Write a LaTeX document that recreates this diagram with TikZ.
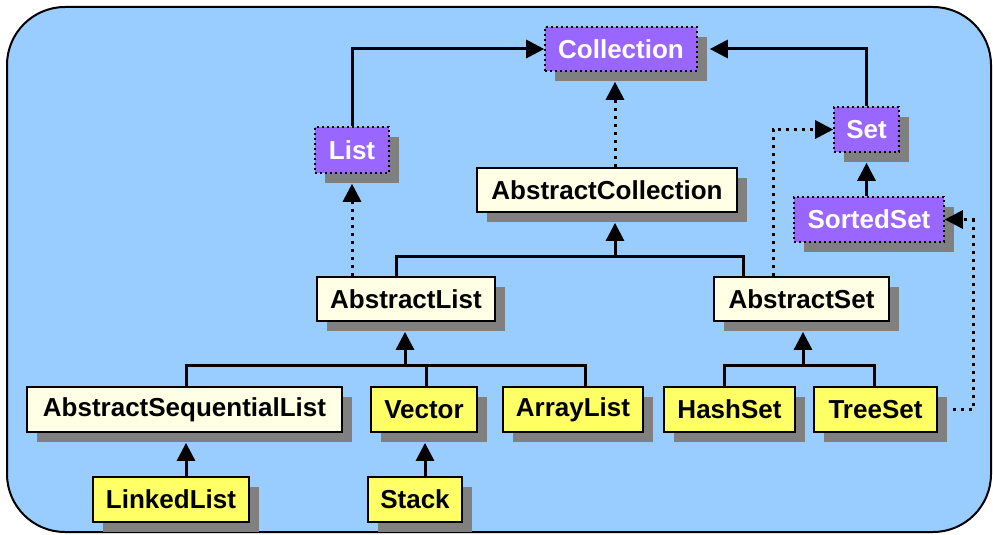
\documentclass[tikz,border=0pt]{standalone}
\usepackage{fontspec}
\setmainfont{Liberation Sans}
\usetikzlibrary{shadows,arrows.meta,calc}
\definecolor{bgblue}{RGB}{153,204,255}
\definecolor{ifpurple}{RGB}{153,102,255}
\definecolor{absfill}{RGB}{255,255,230}
\definecolor{conyellow}{RGB}{255,255,102}
\definecolor{shgray}{RGB}{128,128,128}

\begin{document}
\begin{tikzpicture}[x=1pt,y=-1pt,
  box/.style={rectangle, inner sep=0pt, minimum height=44pt,
    font=\fontsize{26}{30}\selectfont\bfseries,
    drop shadow={shadow xshift=10pt,shadow yshift=-10pt,fill=shgray,opacity=1}},
  iface/.style={box, fill=ifpurple, text=white, draw=black, line width=1.6pt,
    dash pattern=on 2pt off 3pt},
  abstr/.style={box, fill=absfill, draw=black, line width=1.8pt},
  concr/.style={box, fill=conyellow, draw=black, line width=1.8pt},
  link/.style={line width=3pt},
  impl/.style={line width=3pt, dash pattern=on 3pt off 5pt},
  tip/.style={-{Triangle[length=18pt,width=18pt]}}
]
\useasboundingbox (0,0) rectangle (993,535);
% background panel
\draw[fill=bgblue, line width=2pt, rounded corners=58pt] (7,7) rectangle (991,532);

% interfaces
\node[iface, minimum width=152pt] (coll) at (621,49) {Collection};
\node[iface, minimum width=74pt, minimum height=46pt] (list) at (352,150) {List};
\node[iface, minimum width=65pt, minimum height=45pt] (set) at (866.5,129.5) {Set};
\node[iface, minimum width=150pt, minimum height=45pt] (sset) at (869,219.5) {SortedSet};

% abstract classes
\node[abstr, minimum width=260pt] (acoll) at (607,190) {AbstractCollection};
\node[abstr, minimum width=178pt] (alist) at (406,299) {AbstractList};
\node[abstr, minimum width=175pt] (aset) at (801.5,299) {AbstractSet};
\node[abstr, minimum width=315pt, minimum height=45pt] (aseq) at (184.5,409.5) {AbstractSequentialList};

% concrete classes
\node[concr, minimum width=106pt, minimum height=45pt] (vec) at (424,409.5) {Vector};
\node[concr, minimum width=140pt, minimum height=45pt] (alst) at (573,409.5) {ArrayList};
\node[concr, minimum width=131pt, minimum height=45pt] (hset) at (729.5,409.5) {HashSet};
\node[concr, minimum width=123pt, minimum height=45pt] (tset) at (875.5,409.5) {TreeSet};
\node[concr, minimum width=156pt, minimum height=45pt] (llist) at (171,499.5) {LinkedList};
\node[concr, minimum width=94pt, minimum height=45pt] (stack) at (415,499.5) {Stack};

% junction points of the inheritance bars
\coordinate (j1) at (615,256);
\coordinate (j2) at (405,365);
\coordinate (j3) at (803,365);
\coordinate (k) at (973,409.5);

% interface inheritance
\draw[link,tip] (list.north) |- (coll.west);
\draw[link,tip] (set.north) |- ([xshift=12pt]coll.east);
\draw[link,tip] (sset.north -| set.south) -- ($(set.south)+(0,10)$);

% implementations (dotted)
\draw[impl,tip] (j1 |- acoll.north) -- ($(j1 |- coll.south)+(0,10)$);
\draw[impl,tip] (list.south |- alist.north) -- ($(list.south)+(0,10)$);
\draw[impl,tip] ([xshift=-28.5pt]aset.north) |- (set.west);
\draw[impl,tip] ([xshift=15pt]tset.east) -- (k) |- (sset.east);

% class inheritance
\draw[link] ([xshift=-10pt]alist.north) |- (j1) -| ([xshift=-58.5pt]aset.north);
\draw[link,tip] (j1) -- ($(j1 |- acoll.south)+(0,10)$);

\draw[link] ([xshift=1.5pt]aseq.north) |- ([xshift=12pt]alst.north |- j2) -- ([xshift=12pt]alst.north);
\draw[link] ([xshift=2pt]vec.north) -- ([xshift=2pt]vec.north |- j2);
\draw[link,tip] (j2) -- ($(j2 |- alist.south)+(0,10)$);

\draw[link] ([xshift=-5.5pt]hset.north) |- (j3) -| ([xshift=-1.5pt]tset.north);
\draw[link,tip] (j3) -- ($(j3 |- aset.south)+(0,10)$);

\draw[link,tip] ([xshift=15pt]llist.north) -- ($([xshift=15pt]llist.north |- aseq.south)+(0,10)$);
\draw[link,tip] ([xshift=10pt]stack.north) -- ($([xshift=10pt]stack.north |- vec.south)+(0,10)$);
\end{tikzpicture}
\end{document}
